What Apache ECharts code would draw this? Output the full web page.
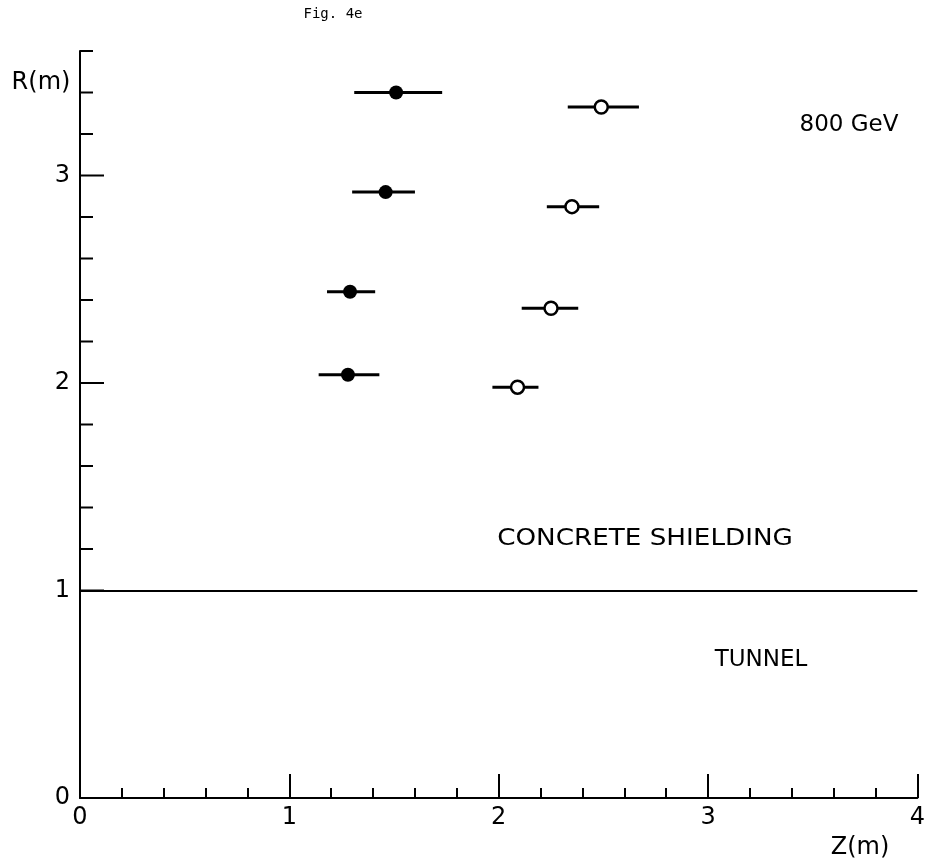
<!DOCTYPE html>
<html>
<head>
<meta charset="utf-8">
<script src="https://cdn.jsdelivr.net/npm/echarts@6/dist/echarts.min.js"></script>
<style>
  html, body { margin: 0; padding: 0; background: #fff; }
  #container { width: 928px; height: 861px; }
</style>
</head>
<body>
<div id="container"></div>
<script>
// filled points: Z (m), R (m), horizontal error bar ends
var filledZ  = [1.51, 1.46, 1.29, 1.28];
var filledR  = [3.40, 2.92, 2.44, 2.04];
var filledLo = [1.31, 1.30, 1.18, 1.14];
var filledHi = [1.73, 1.60, 1.41, 1.43];

// open points
var openZ  = [2.49, 2.35, 2.25, 2.09];
var openR  = [3.33, 2.85, 2.36, 1.98];
var openLo = [2.33, 2.23, 2.11, 1.97];
var openHi = [2.67, 2.48, 2.38, 2.19];

// y axis ticks (no minor ticks below 1 in the original)
var yMajorTicks = [1, 2, 3];
var yMinorTicks = [1.2, 1.4, 1.6, 1.8, 2.2, 2.4, 2.6, 2.8, 3.2, 3.4, 3.6];
var yLabels = [0, 1, 2, 3];

var tunnelWall = 1;

var dom = document.getElementById("container");
var myChart = echarts.init(dom);

var font = '"DejaVu Sans", sans-serif';

function points(zs, rs) {
    var out = [];
    for (var i = 0; i < zs.length; i++) out.push([zs[i], rs[i]]);
    return out;
}
function bars(lo, hi, rs) {
    var out = [];
    for (var i = 0; i < lo.length; i++) out.push([lo[i], hi[i], rs[i]]);
    return out;
}

function renderBar(params, api) {
    var a = api.coord([api.value(0), api.value(2)]);
    var b = api.coord([api.value(1), api.value(2)]);
    return {
        type: 'line',
        shape: {x1: a[0], y1: a[1], x2: b[0], y2: b[1]},
        style: {stroke: '#000', lineWidth: 3}
    };
}

function tickRenderer(len) {
    return function (params, api) {
        var p = api.coord([0, api.value(0)]);
        return {
            type: 'line',
            shape: {x1: p[0], y1: p[1], x2: p[0] + len, y2: p[1]},
            style: {stroke: '#000', lineWidth: 2}
        };
    };
}

var tickData = function (arr) {
    return arr.map(function (v) { return [v]; });
};

option = {
    backgroundColor: '#fff',
    animation: false,
    grid: {left: 80, right: 10, top: 51, bottom: 63},
    xAxis: {
        type: 'value',
        min: 0, max: 4, interval: 1,
        axisLine: {show: true, lineStyle: {color: '#000', width: 2}},
        axisTick: {show: true, inside: true, length: 24, lineStyle: {color: '#000', width: 2}},
        minorTick: {show: true, splitNumber: 5, length: 10, lineStyle: {color: '#000', width: 2}},
        splitLine: {show: false},
        axisLabel: {color: '#000', fontSize: 24, fontFamily: font, margin: 8}
    },
    yAxis: {
        type: 'value',
        min: 0, max: 3.6, interval: 1,
        axisLine: {show: true, lineStyle: {color: '#000', width: 2}},
        axisTick: {show: false},
        splitLine: {show: false},
        axisLabel: {
            color: '#000', fontSize: 24, fontFamily: font, margin: 10,
            formatter: function (v) {
                return yLabels.indexOf(v) >= 0 ? String(v) : '';
            }
        }
    },
    graphic: [
        {type: 'text', x: 333, y: 14, style: {text: 'Fig. 4e', font: '14px "DejaVu Sans Mono", monospace', fill: '#000', align: 'center', verticalAlign: 'middle'}},
        {type: 'text', x: 41, y: 83, style: {text: 'R(m)', font: '24px ' + font, fill: '#000', align: 'center', verticalAlign: 'middle'}},
        {type: 'text', x: 860, y: 848, style: {text: 'Z(m)', font: '24px ' + font, fill: '#000', align: 'center', verticalAlign: 'middle'}},
        {type: 'text', x: 849, y: 125, style: {text: '800 GeV', font: '23px ' + font, fill: '#000', align: 'center', verticalAlign: 'middle'}},
        {type: 'text', x: 645, y: 539, scaleX: 1.14, style: {text: 'CONCRETE SHIELDING', font: '23px ' + font, fill: '#000', align: 'center', verticalAlign: 'middle'}},
        {type: 'text', x: 761, y: 660, style: {text: 'TUNNEL', font: '23px ' + font, fill: '#000', align: 'center', verticalAlign: 'middle'}}
    ],
    series: [
        {
            type: 'custom', name: 'yMajor', clip: false, silent: true,
            renderItem: tickRenderer(24), data: tickData(yMajorTicks)
        },
        {
            type: 'custom', name: 'yMinor', clip: false, silent: true,
            renderItem: tickRenderer(13), data: tickData(yMinorTicks)
        },
        {
            type: 'custom', name: 'filledBars', silent: true,
            renderItem: renderBar, data: bars(filledLo, filledHi, filledR),
            encode: {x: [0, 1], y: 2}
        },
        {
            type: 'custom', name: 'openBars', silent: true,
            renderItem: renderBar, data: bars(openLo, openHi, openR),
            encode: {x: [0, 1], y: 2}
        },
        {
            type: 'scatter', name: 'filled',
            symbol: 'circle', symbolSize: 14,
            itemStyle: {color: '#000', opacity: 1},
            data: points(filledZ, filledR),
            markLine: {
                silent: true, symbol: ['none', 'none'],
                label: {show: false},
                lineStyle: {color: '#000', width: 2, type: 'solid'},
                data: [{yAxis: tunnelWall}]
            }
        },
        {
            type: 'scatter', name: 'open',
            symbol: 'circle', symbolSize: 13,
            itemStyle: {color: '#fff', borderColor: '#000', borderWidth: 2.5, opacity: 1},
            data: points(openZ, openR)
        }
    ]
};

if (option && typeof option === "object") {
    myChart.setOption(option, true);
}
</script>
</body>
</html>
